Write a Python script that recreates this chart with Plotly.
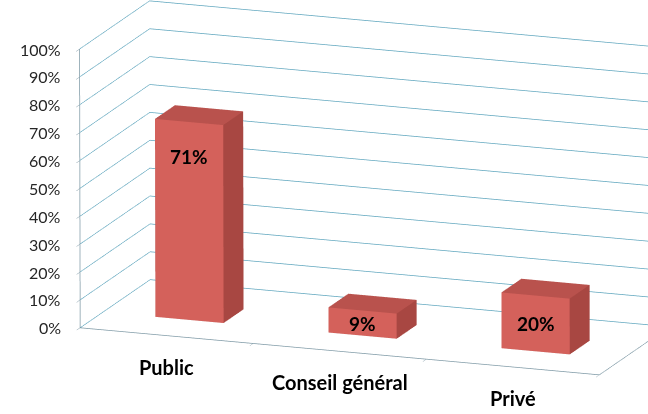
import plotly.graph_objects as go

# Répartition par financeur
categories = ["Public", "Conseil général", "Privé"]
values = [0.71, 0.09, 0.20]
value_labels = ["71%", "9%", "20%"]
tick_values = [i / 10 for i in range(11)]
tick_labels = [f"{i * 10}%" for i in range(11)]

FRONT = "#d4615b"
SIDE = "#a84742"
TOP = "#b9524d"
GRID = "#5fa6be"
AXIS = "#7f9aa6"

HALF_W = 0.197          # half bar width, category units
DEPTH = (0.326, 0.611)  # bar extent along the depth axis


def box(xc, h):
    """Closed 3D column: front face light, top medium, sides dark."""
    x0, x1 = xc - HALF_W, xc + HALF_W
    y0, y1 = DEPTH
    xs = [x0, x1, x1, x0, x0, x1, x1, x0]
    ys = [y0, y0, y1, y1, y0, y0, y1, y1]
    zs = [0, 0, 0, 0, h, h, h, h]
    faces = [((0, 1, 2), SIDE), ((0, 2, 3), SIDE),      # bottom
             ((4, 5, 6), TOP), ((4, 6, 7), TOP),        # top
             ((0, 1, 5), FRONT), ((0, 5, 4), FRONT),    # front
             ((3, 2, 6), SIDE), ((3, 6, 7), SIDE),      # back
             ((0, 3, 7), SIDE), ((0, 7, 4), SIDE),      # left
             ((1, 2, 6), SIDE), ((1, 6, 5), SIDE)]      # right
    return go.Mesh3d(
        x=xs, y=ys, z=zs,
        i=[f[0][0] for f in faces], j=[f[0][1] for f in faces], k=[f[0][2] for f in faces],
        facecolor=[f[1] for f in faces], flatshading=True,
        lighting=dict(ambient=1, diffuse=0, specular=0, roughness=1, fresnel=0),
        hoverinfo="skip", showscale=False,
    )


fig = go.Figure()
for i, v in enumerate(values):
    fig.add_trace(box(i, v))

ann = []
# value axis labels, kept flat on screen
for t, s in zip(tick_values, tick_labels):
    ann.append(dict(x=-0.5, y=0, z=t, text=s, showarrow=False, xanchor="right", xshift=-17,
                    font=dict(family="Lato", size=16, color="#262626")))
# data labels on the front face of each column
for i, (v, t) in enumerate(zip(values, value_labels)):
    ann.append(dict(x=i, y=DEPTH[0], z=max(v / 2, v - 0.125), text=t, showarrow=False,
                    font=dict(family="Lato", size=19, color="black", weight="bold")))
# category names under the floor edge
for i, c in enumerate(categories):
    ann.append(dict(x=i, y=0, z=0, text=c, showarrow=False, yshift=-31,
                    font=dict(family="Lato", size=20, color="black", weight="bold")))

common = dict(showbackground=False, showspikes=False, zeroline=False, title=dict(text=""))
fig.update_layout(
    width=648, height=414,
    margin=dict(l=0, r=0, t=0, b=0),
    paper_bgcolor="white",
    showlegend=False,
    scene=dict(
        domain=dict(x=[0, 1], y=[0, 1]),
        bgcolor="white",
        xaxis=dict(range=[-0.5, 2.5], tickvals=[-0.5, 0.5, 1.5, 2.5], ticktext=[""] * 4,
                   showgrid=False, showline=True, linecolor=AXIS, linewidth=1.5,
                   ticks="outside", ticklen=6, tickcolor=AXIS, **common),
        yaxis=dict(range=[0, 1], showticklabels=False, showgrid=False, showline=True,
                   linecolor=AXIS, linewidth=1.5, ticks="", **common),
        zaxis=dict(range=[0, 1], tickvals=tick_values, showticklabels=False,
                   showgrid=True, gridcolor=GRID, gridwidth=1.5,
                   showline=True, linecolor=AXIS, linewidth=1.5,
                   ticks="outside", ticklen=5, tickcolor=AXIS, **common),
        aspectmode="manual",
        aspectratio=dict(x=2.6722, y=0.9807, z=1.3916),
        camera=dict(
            eye=dict(x=0.8595, y=-3.0424, z=0.7257),
            center=dict(x=-0.1431, y=-0.3178, z=-0.0302),
            up=dict(x=-0.0851, y=0.2372, z=0.9677),
            projection=dict(type="orthographic"),
        ),
        annotations=ann,
    ),
)

fig.write_html("out.html", config=dict(displayModeBar=False))
